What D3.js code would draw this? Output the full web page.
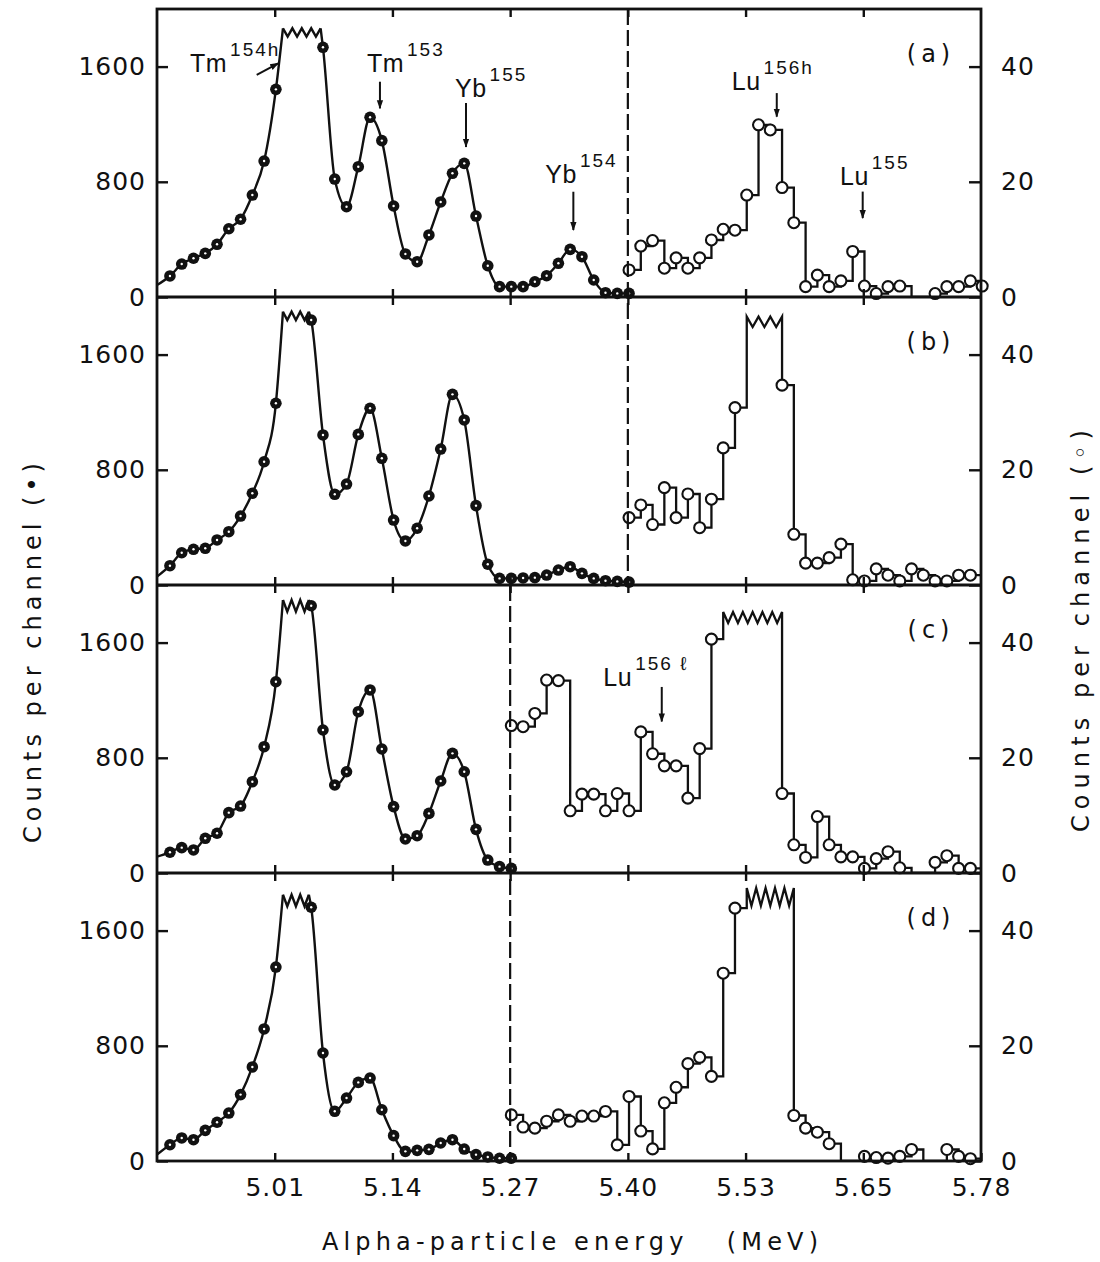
<!DOCTYPE html>
<html><head><meta charset="utf-8">
<script src="https://cdn.jsdelivr.net/npm/d3@7"></script>
<style>
body{margin:0;background:#fff;}
svg text{fill:#111;}
</style></head>
<body><svg id="chart" width="1100" height="1262"></svg>
<script>
// ---------------- DATA ----------------
const tickChannels = [10,20,30,40,50,60,70];
const tickLabels = ["5.01","5.14","5.27","5.40","5.53","5.65","5.78"];
const leftTicks = [0,800,1600];
const rightTicks = [0,20,40];
const panelNames = ["(a)","(b)","(c)","(d)"];
const dividerChannel = [40,40,30,30];

// filled circles: counts per channel, channel 1..n (null = off scale)
const leftA = [146,229,269,303,366,474,540,708,944,1442,null,null,null,1734,819,627,905,1248,1086,632,299,245,431,660,859,928,562,217,72,72,72,106,148,234,331,280,118,30,25,25];
const leftB = [134,224,248,255,313,370,479,637,856,1262,null,null,1840,1042,630,701,1046,1227,880,451,306,394,618,944,1324,1146,551,144,46,46,49,51,69,104,127,81,46,30,25,20];
const leftC = [144,176,160,241,276,419,465,634,877,1328,null,null,1856,993,611,703,1120,1271,861,461,236,259,414,639,831,703,303,90,44,32];
const leftD = [113,160,148,213,269,333,461,653,917,1347,null,null,1762,750,345,437,546,576,356,176,67,74,81,125,148,83,44,28,19,19];
const leftEdge = [83,58,113,44];               // curve value at the left border
const leftCut = [[1808,1866],[1840,1898],[1815,1896],[1769,1849]];

// open circles: counts per channel (right scale), starting channel given below
const rightStart = [40,40,30,30];
const rightA = [4.7,8.85,9.8,5.0,6.8,5.0,6.8,9.9,11.75,11.6,17.7,29.9,29.0,19.0,12.9,1.8,3.8,1.8,2.8,7.9,1.9,0.6,1.8,1.9,0,0,0.6,1.8,1.8,2.8,1.9];
const rightB = [11.7,13.9,10.5,16.9,11.7,15.8,9.95,14.9,23.8,30.8,null,null,null,34.7,8.8,3.8,3.8,4.75,7.1,0.9,0.7,2.8,1.7,0.7,2.8,1.7,0.7,0.7,1.7,1.7];
const rightC = [25.6,25.4,27.7,33.5,33.4,10.8,13.7,13.7,10.8,13.8,10.8,24.5,20.7,18.6,18.6,13.0,21.6,40.6,null,null,null,null,null,13.8,4.9,2.7,9.8,4.9,2.8,2.8,0.8,2.5,3.7,0.9,0,0,1.85,3.0,0.8,0.8];
const rightD = [8.0,5.9,5.7,6.9,8.0,6.9,7.8,7.8,8.6,2.8,11.2,5.2,2.1,10.1,12.8,16.9,18.0,14.7,32.6,43.9,null,null,null,null,7.9,5.7,5.0,3.0,0,0,0.8,0.6,0.5,0.8,2.0,0,0,2.0,0.8,0.4];
const rightCut = [null,[44.8,46.6],[43.4,45.3],[44.3,47.4]];

// annotations (arrow ends in channel / count units)
const noteNames  = ["Tm","Tm","Yb","Yb","Lu","Lu","Lu"];
const noteMasses = ["154h","153","155","154","156h","155","156 \u2113"];
const notePanel  = [0,0,0,0,0,0,2];
const noteAxis   = ["L","L","L","L","R","R","R"];
const noteFrom   = [[8.37,1542],[18.84,1495],[26.15,1347],[35.27,731],[52.55,35.4],[59.85,18.3],[42.78,32.3]];
const noteTo     = [[10.2,1623],[18.84,1310],[26.15,1042],[35.27,465],[52.55,31.3],[59.85,13.7],[42.78,26.3]];

// ---------------- LAYOUT ----------------
const X0 = 157, X1 = 981, TOP = 9, PH = 288;
const OFF = 0.1;
const noteTextOffset = [[-66.7,-3.3],[-13,-10],[-11,-5.7],[-28,-8.4],[-45,-3.3],[-22.7,-6.7],[-58.4,-1]];
const FONT = "DejaVu Sans, sans-serif";
const FONT2 = "Liberation Sans, Arial, sans-serif";
const INK = "#111";

const svg = d3.select("#chart");
svg.append("rect").attr("width",1100).attr("height",1262).attr("fill","#fff");

const defs = svg.append("defs");
defs.append("marker").attr("id","arr").attr("viewBox","0 0 10 10")
  .attr("refX",9).attr("refY",5).attr("markerWidth",9).attr("markerHeight",9)
  .attr("markerUnits","userSpaceOnUse").attr("orient","auto")
  .append("path").attr("d","M0,1.5 L10,5 L0,8.5 Z").attr("fill",INK);

const x = d3.scaleLinear().domain([0,70]).range([X0,X1]);
const leftSeries = [leftA,leftB,leftC,leftD];
const rightSeries = [rightA,rightB,rightC,rightD];

function zigzag(p, xs, xe, yHi, yLo){
  let n = Math.max(2, Math.round((xe-xs)/5.5));
  if (n % 2) n += 1;
  for (let k=1;k<=n;k++){
    p.lineTo(xs + (xe-xs)*k/n, (k%2) ? yLo : yHi);
  }
}

const yScales = [];
panelNames.forEach((name,i)=>{
  const y0 = TOP + i*PH;
  const yL = d3.scaleLinear().domain([0,2000]).range([y0+PH,y0]);
  const yR = d3.scaleLinear().domain([0,50]).range([y0+PH,y0]);
  yScales.push({yL,yR});
  const g = svg.append("g");

  defs.append("clipPath").attr("id","clip"+i).append("rect")
    .attr("x",X0).attr("y",y0-2).attr("width",X1-X0).attr("height",PH+2);

  // ----- left (filled) series: smooth curve with zig-zag break -----
  const vals = leftSeries[i];
  const cut = leftCut[i];
  const line = d3.line().x(d=>x(d.c+OFF)).y(d=>yL(d.v)).curve(d3.curveMonotoneX);
  const segs = []; const gaps = [];
  let cur = [{c:-OFF, v:leftEdge[i]}];
  let prevC = null, inGap = false, gapStart = null;
  vals.forEach((v,k)=>{
    const c = k+1;
    if (v === null){
      if (!inGap){
        gapStart = prevC + 0.6;
        cur.push({c:gapStart, v:cut[1]});
        segs.push(cur); cur = []; inGap = true;
      }
    } else {
      if (inGap){
        const ge = c - 0.2;
        gaps.push([gapStart, ge]);
        cur.push({c:ge, v:cut[1]});
        inGap = false;
      }
      cur.push({c, v});
      prevC = c;
    }
  });
  segs.push(cur);
  const lg = g.append("g").attr("clip-path",`url(#clip${i})`);
  segs.forEach(s=>{
    lg.append("path").attr("d",line(s)).attr("fill","none")
      .attr("stroke",INK).attr("stroke-width",2.4).attr("stroke-linejoin","round");
  });
  gaps.forEach(([a,b])=>{
    const p = d3.path();
    const xs = x(a+OFF), xe = x(b+OFF);
    p.moveTo(xs, yL(cut[1]));
    zigzag(p, xs, xe, yL(cut[1]), yL(cut[0]));
    lg.append("path").attr("d",p.toString()).attr("fill","none")
      .attr("stroke",INK).attr("stroke-width",2.4).attr("stroke-linejoin","miter");
  });

  // ----- right (open) series: step line -----
  const rv = rightSeries[i], st = rightStart[i], rc = rightCut[i];
  const p = d3.path();
  p.moveTo(x(st+OFF), yR(rv[0]));
  let prevV = rv[0], k = 1;
  while (k < rv.length){
    const v = rv[k];
    const xc = x(st+k+OFF);
    if (v === null){
      let e = k; while (e < rv.length && rv[e] === null) e++;
      const xe = x(st+e+OFF);
      p.lineTo(xc, yR(prevV)); p.lineTo(xc, yR(rc[1]));
      zigzag(p, xc, xe, yR(rc[1]), yR(rc[0]));
      if (e < rv.length){ p.lineTo(xe, yR(rv[e])); prevV = rv[e]; }
      k = e+1;
    } else {
      p.lineTo(xc, yR(prevV)); p.lineTo(xc, yR(v)); prevV = v; k++;
    }
  }
  p.lineTo(x(st+rv.length+OFF), yR(prevV));
  lg.append("path").attr("d",p.toString()).attr("fill","none")
    .attr("stroke",INK).attr("stroke-width",2.3).attr("stroke-linejoin","miter");

  // ----- markers -----
  const lpts = vals.map((v,k)=>({c:k+1,v})).filter(d=>d.v!==null);
  g.selectAll(".fd").data(lpts).join("circle")
    .attr("cx",d=>x(d.c+OFF)).attr("cy",d=>yL(d.v)).attr("r",5.8).attr("fill",INK);
  g.selectAll(".fdi").data(lpts).join("circle")
    .attr("cx",d=>x(d.c+OFF)).attr("cy",d=>yL(d.v)).attr("r",1.2).attr("fill","#fff");
  const rpts = rv.map((v,k)=>({c:st+k,v})).filter(d=>d.v!==null && d.v>0);
  g.selectAll(".oc").data(rpts).join("circle")
    .attr("cx",d=>x(d.c+OFF)).attr("cy",d=>yR(d.v)).attr("r",5.5)
    .attr("fill","#fff").attr("stroke",INK).attr("stroke-width",2.1);

  // ----- axes -----
  const ax = (a)=>{ a.select(".domain").remove();
    a.selectAll("line").attr("stroke",INK).attr("stroke-width",2.4);
    a.selectAll("text").attr("font-family",FONT).attr("font-size",25).attr("fill",INK).attr("letter-spacing",1);
  };
  g.append("g").attr("transform",`translate(${X0},0)`)
    .call(d3.axisLeft(yL).tickValues(leftTicks).tickSizeInner(-11).tickSizeOuter(0).tickPadding(11).tickFormat(d3.format("d")))
    .call(ax);
  g.append("g").attr("transform",`translate(${X1},0)`)
    .call(d3.axisRight(yR).tickValues(rightTicks).tickSizeInner(-12).tickSizeOuter(0).tickPadding(20).tickFormat(d3.format("d")))
    .call(ax);
  g.append("g").attr("transform",`translate(0,${y0})`)
    .call(d3.axisTop(x).tickValues(tickChannels.slice(0,6)).tickSizeInner(-8).tickSizeOuter(0).tickFormat(""))
    .call(ax);
  const bx = d3.axisBottom(x).tickValues(i===3?tickChannels:tickChannels.slice(0,6)).tickSizeInner(-8).tickSizeOuter(0);
  if (i===3) bx.tickPadding(17).tickFormat((d,j)=>tickLabels[j]); else bx.tickFormat("");
  g.append("g").attr("transform",`translate(0,${y0+PH})`).call(bx).call(ax);

  // panel name
  g.append("text").attr("x",931).attr("y",y0+52.5).attr("text-anchor","middle")
    .attr("font-family",FONT).attr("font-size",24).attr("letter-spacing",5).text(name);
});

// dashed dividers
[[0,2],[2,4]].forEach(([a,b],j)=>{
  const xc = x(dividerChannel[a]);
  svg.append("line").attr("x1",xc).attr("x2",xc).attr("y1",TOP+a*PH).attr("y2",TOP+b*PH)
    .attr("stroke",INK).attr("stroke-width",2.2).attr("stroke-dasharray","16,5");
});

// frame
svg.append("rect").attr("x",X0).attr("y",TOP).attr("width",X1-X0).attr("height",4*PH)
  .attr("fill","none").attr("stroke",INK).attr("stroke-width",2.8);
[1,2,3].forEach(k=>{
  svg.append("line").attr("x1",X0).attr("x2",X1).attr("y1",TOP+k*PH).attr("y2",TOP+k*PH)
    .attr("stroke",INK).attr("stroke-width",2.8);
});

// annotations
noteNames.forEach((nm,j)=>{
  const ys = yScales[notePanel[j]];
  const ysc = noteAxis[j]==="L" ? ys.yL : ys.yR;
  const fx = x(noteFrom[j][0]+OFF), fy = ysc(noteFrom[j][1]);
  const tx = x(noteTo[j][0]+OFF), ty = ysc(noteTo[j][1]);
  svg.append("line").attr("x1",fx).attr("y1",fy).attr("x2",tx).attr("y2",ty)
    .attr("stroke",INK).attr("stroke-width",2).attr("marker-end","url(#arr)");
  const t = svg.append("text").attr("x",fx+noteTextOffset[j][0]).attr("y",fy+noteTextOffset[j][1])
    .attr("font-family",FONT2).attr("font-size",25).attr("letter-spacing",0.5);
  t.append("tspan").text(nm);
  t.append("tspan").attr("dx",3).attr("dy",-16).attr("font-size",19).attr("letter-spacing",2).text(noteMasses[j]);
});

// axis titles
svg.append("text").attr("x",322).attr("y",1250).attr("font-family",FONT).attr("font-size",24)
  .attr("textLength",496).attr("lengthAdjust","spacing").style("white-space","pre")
  .text("Alpha-particle energy   (MeV)");
svg.append("text").attr("transform","translate(41,843) rotate(-90)").attr("font-family",FONT).attr("font-size",24)
  .attr("textLength",380).attr("lengthAdjust","spacing").text("Counts per channel (\u2022)");
svg.append("text").attr("transform","translate(1089,832) rotate(-90)").attr("font-family",FONT).attr("font-size",24)
  .attr("textLength",402).attr("lengthAdjust","spacing").text("Counts per channel (\u25E6)");
</script>
</body></html>
